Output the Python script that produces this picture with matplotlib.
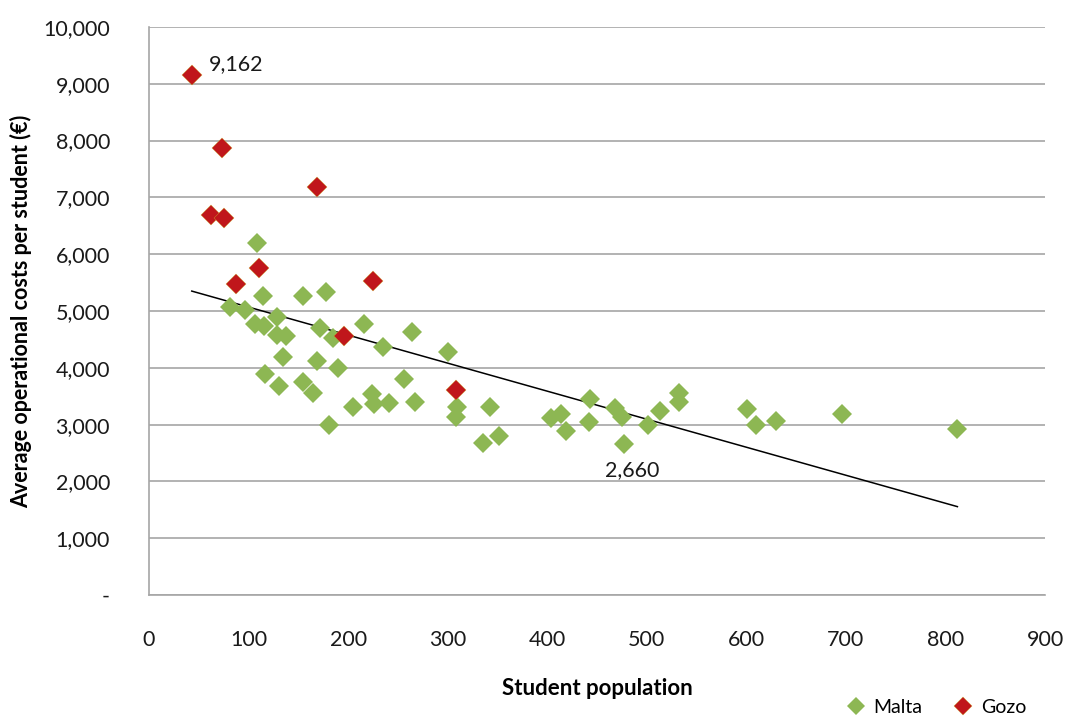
import numpy as np
import matplotlib.pyplot as plt
from matplotlib.ticker import FuncFormatter

# Student population / average operational cost per student (EUR)
malta_pop = [109, 115, 155, 178, 81, 96, 107, 116, 129, 129, 138, 172, 185, 216,
             264, 235, 300, 135, 169, 190, 117, 131, 155, 165, 256, 224, 226, 241,
             267, 205, 181, 309, 308, 343, 336, 352, 404, 414, 419, 443, 442, 468,
             475, 477, 501, 513, 532, 532, 601, 610, 630, 696, 812]
malta_cost = [6204, 5272, 5272, 5343, 5062, 5026, 4763, 4728, 4886, 4570, 4552, 4692,
              4517, 4763, 4622, 4359, 4271, 4183, 4113, 3990, 3884, 3673, 3743, 3550,
              3796, 3533, 3357, 3374, 3392, 3304, 2988, 3304, 3128, 3310, 2671, 2794,
              3110, 3180, 2882, 3450, 3040, 3290, 3140, 2660, 2990, 3234, 3550, 3392,
              3269, 2990, 3058, 3181, 2917]

gozo_pop = [43, 73, 169, 62, 75, 111, 87, 225, 196, 308]
gozo_cost = [9162, 7873, 7188, 6696, 6643, 5764, 5483, 5536, 4552, 3603]

green = '#8db753'
red = '#c0161b'
grid_col = '#a6a6a6'
text_col = '#1a1a1a'

plt.rcParams['font.family'] = ['Lato', 'DejaVu Sans']

fig = plt.figure(figsize=(10.67, 7.23), dpi=100)
ax = fig.add_axes([0.1396, 0.177, 0.8398, 0.7857])

ax.plot(malta_pop, malta_cost, 'D', color=green, markersize=10.5, markeredgewidth=0,
        label='Malta', zorder=3)
ax.plot(gozo_pop, gozo_cost, 'D', color=red, markersize=10.5, markeredgecolor='#c8962a',
        markeredgewidth=0.3, label='Gozo', zorder=4)

# linear trend over all schools
all_x = np.array(malta_pop + gozo_pop, dtype=float)
all_y = np.array(malta_cost + gozo_cost, dtype=float)
k, b = np.polyfit(all_x, all_y, 1)
xs = np.array([all_x.min(), all_x.max()])
ax.plot(xs, k * xs + b, color='black', linewidth=1.1, zorder=2)

# data labels for the max and min
ax.annotate('9,162', (gozo_pop[0], gozo_cost[0]), xytext=(12, 0), textcoords='offset points',
            fontsize=15.5, va='bottom', ha='left', color=text_col)
i_min = int(np.argmin(malta_cost))
ax.annotate('2,660', (malta_pop[i_min], malta_cost[i_min]), xytext=(6, -12),
            textcoords='offset points', fontsize=15.5, va='top', ha='center', color=text_col)

ax.set_xlim(0, 900)
ax.set_ylim(0, 10000)
ax.set_xticks(np.arange(0, 901, 100))
ax.set_yticks(np.arange(0, 10001, 1000))
ax.yaxis.set_major_formatter(FuncFormatter(lambda v, p: '-' if v == 0 else f'{int(v):,}'))
ax.tick_params(axis='both', length=0, labelsize=15.5, colors=text_col)
ax.tick_params(axis='x', pad=25)
ax.tick_params(axis='y', pad=28)
ax.yaxis.grid(True, color=grid_col, linewidth=1.2)
ax.set_axisbelow(True)
for side in ['top', 'right']:
    ax.spines[side].set_visible(False)
for side in ['left', 'bottom']:
    ax.spines[side].set_color(grid_col)
    ax.spines[side].set_linewidth(1.2)

ax.set_xlabel('Student population', fontsize=16, fontweight='bold', labelpad=20)
ax.set_ylabel('Average operational costs per student (€)', fontsize=15.5,
              fontweight='bold', labelpad=8)

fig.legend(loc='lower right', bbox_to_anchor=(0.978, -0.014), ncol=2, frameon=False,
           fontsize=14, handletextpad=-0.1, columnspacing=1.1, markerscale=0.9)

fig.savefig('out.png', dpi=100)
